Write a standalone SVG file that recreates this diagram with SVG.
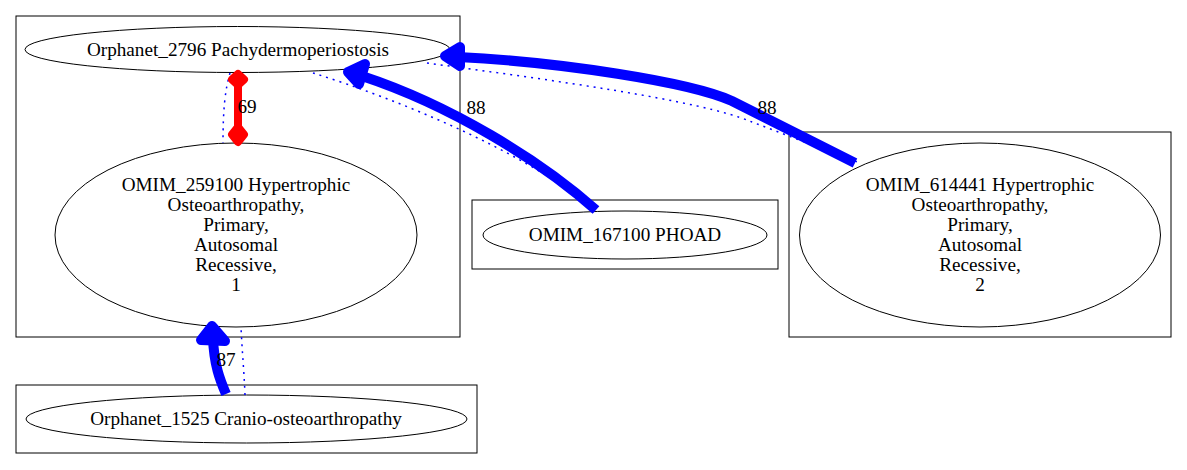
<svg xmlns="http://www.w3.org/2000/svg" width="1187" height="470" viewBox="0 0 1187 470">
<style>
.cl{fill:none;stroke:#000;stroke-width:1}
.nd{fill:#fff;stroke:#000;stroke-width:1}
.t{font-family:"Liberation Serif","Times New Roman",serif;font-size:19.2px;fill:#000;text-anchor:middle}
.thick{fill:none;stroke:#0000ff;stroke-width:10}
.head{fill:#0000ff;stroke:#0000ff;stroke-width:10;stroke-linejoin:round}
.dot{fill:none;stroke:#0000ff;stroke-width:1.5;stroke-dasharray:2,5}
.red{fill:none;stroke:#ff0000;stroke-width:8}
.rhead{fill:#ff0000;stroke:#ff0000;stroke-width:8;stroke-linejoin:round}
</style>
<rect width="1187" height="470" fill="#fff"/>
<g id="clusters">
<rect class="cl" x="16" y="16" width="444" height="321"/>
<rect class="cl" x="472" y="200" width="306" height="69"/>
<rect class="cl" x="789" y="132" width="382" height="205"/>
<rect class="cl" x="16" y="385" width="461" height="68"/>
</g>
<g id="n2796">
<ellipse class="nd" cx="237.5" cy="49.5" rx="212.5" ry="23"/>
<text class="t" x="238" y="55.5">Orphanet_2796 Pachydermoperiostosis</text>
</g>
<g id="n259100">
<ellipse class="nd" cx="236" cy="235" rx="181" ry="92"/>
<text class="t" x="236" y="191">OMIM_259100 Hypertrophic</text>
<text class="t" x="236" y="211">Osteoarthropathy,</text>
<text class="t" x="236" y="231">Primary,</text>
<text class="t" x="236" y="251">Autosomal</text>
<text class="t" x="236" y="271">Recessive,</text>
<text class="t" x="236" y="291">1</text>
</g>
<g id="n167100">
<ellipse class="nd" cx="625" cy="235" rx="142" ry="24"/>
<text class="t" x="625" y="241">OMIM_167100 PHOAD</text>
</g>
<g id="n614441">
<ellipse class="nd" cx="980" cy="235" rx="180.5" ry="92"/>
<text class="t" x="980" y="191">OMIM_614441 Hypertrophic</text>
<text class="t" x="980" y="211">Osteoarthropathy,</text>
<text class="t" x="980" y="231">Primary,</text>
<text class="t" x="980" y="251">Autosomal</text>
<text class="t" x="980" y="271">Recessive,</text>
<text class="t" x="980" y="291">2</text>
</g>
<g id="n1525">
<ellipse class="nd" cx="246.5" cy="419" rx="220.5" ry="24"/>
<text class="t" x="246" y="425">Orphanet_1525 Cranio-osteoarthropathy</text>
</g>
<g id="connectors">
<path class="dot" d="M230,73 C225,90 223,110 223,143"/>
<path class="red" d="M238,84 L238,128"/>
<polygon class="rhead" points="238,74 244,79.5 238,85 232,79.5"/>
<polygon class="rhead" points="238,127 244,134.5 238,142 232,134.5"/>
<text class="t" x="247" y="113">69</text>

<path class="dot" d="M313,73 C400,100 520,150 592,207"/>
<path class="thick" d="M596,210 C540,160 450,105 362,76"/>
<polygon class="head" points="348,72 365,64 359,84"/>
<text class="t" x="476" y="114">88</text>

<path class="dot" d="M427,63 C550,80 700,100 752,122 L860,163"/>
<path class="thick" d="M458,57 C560,62 690,82 732,101 C765,118 820,145 855,163"/>
<polygon class="head" points="445,56 460,47 460,66"/>
<text class="t" x="767" y="114">88</text>

<path class="dot" d="M245,395 C244,370 242,350 241,327"/>
<path class="thick" d="M226,394 C220,380 214,365 213,338"/>
<polygon class="head" points="212,326 201,340 225,341"/>
<text class="t" x="226" y="366">87</text>
</g>
</svg>
